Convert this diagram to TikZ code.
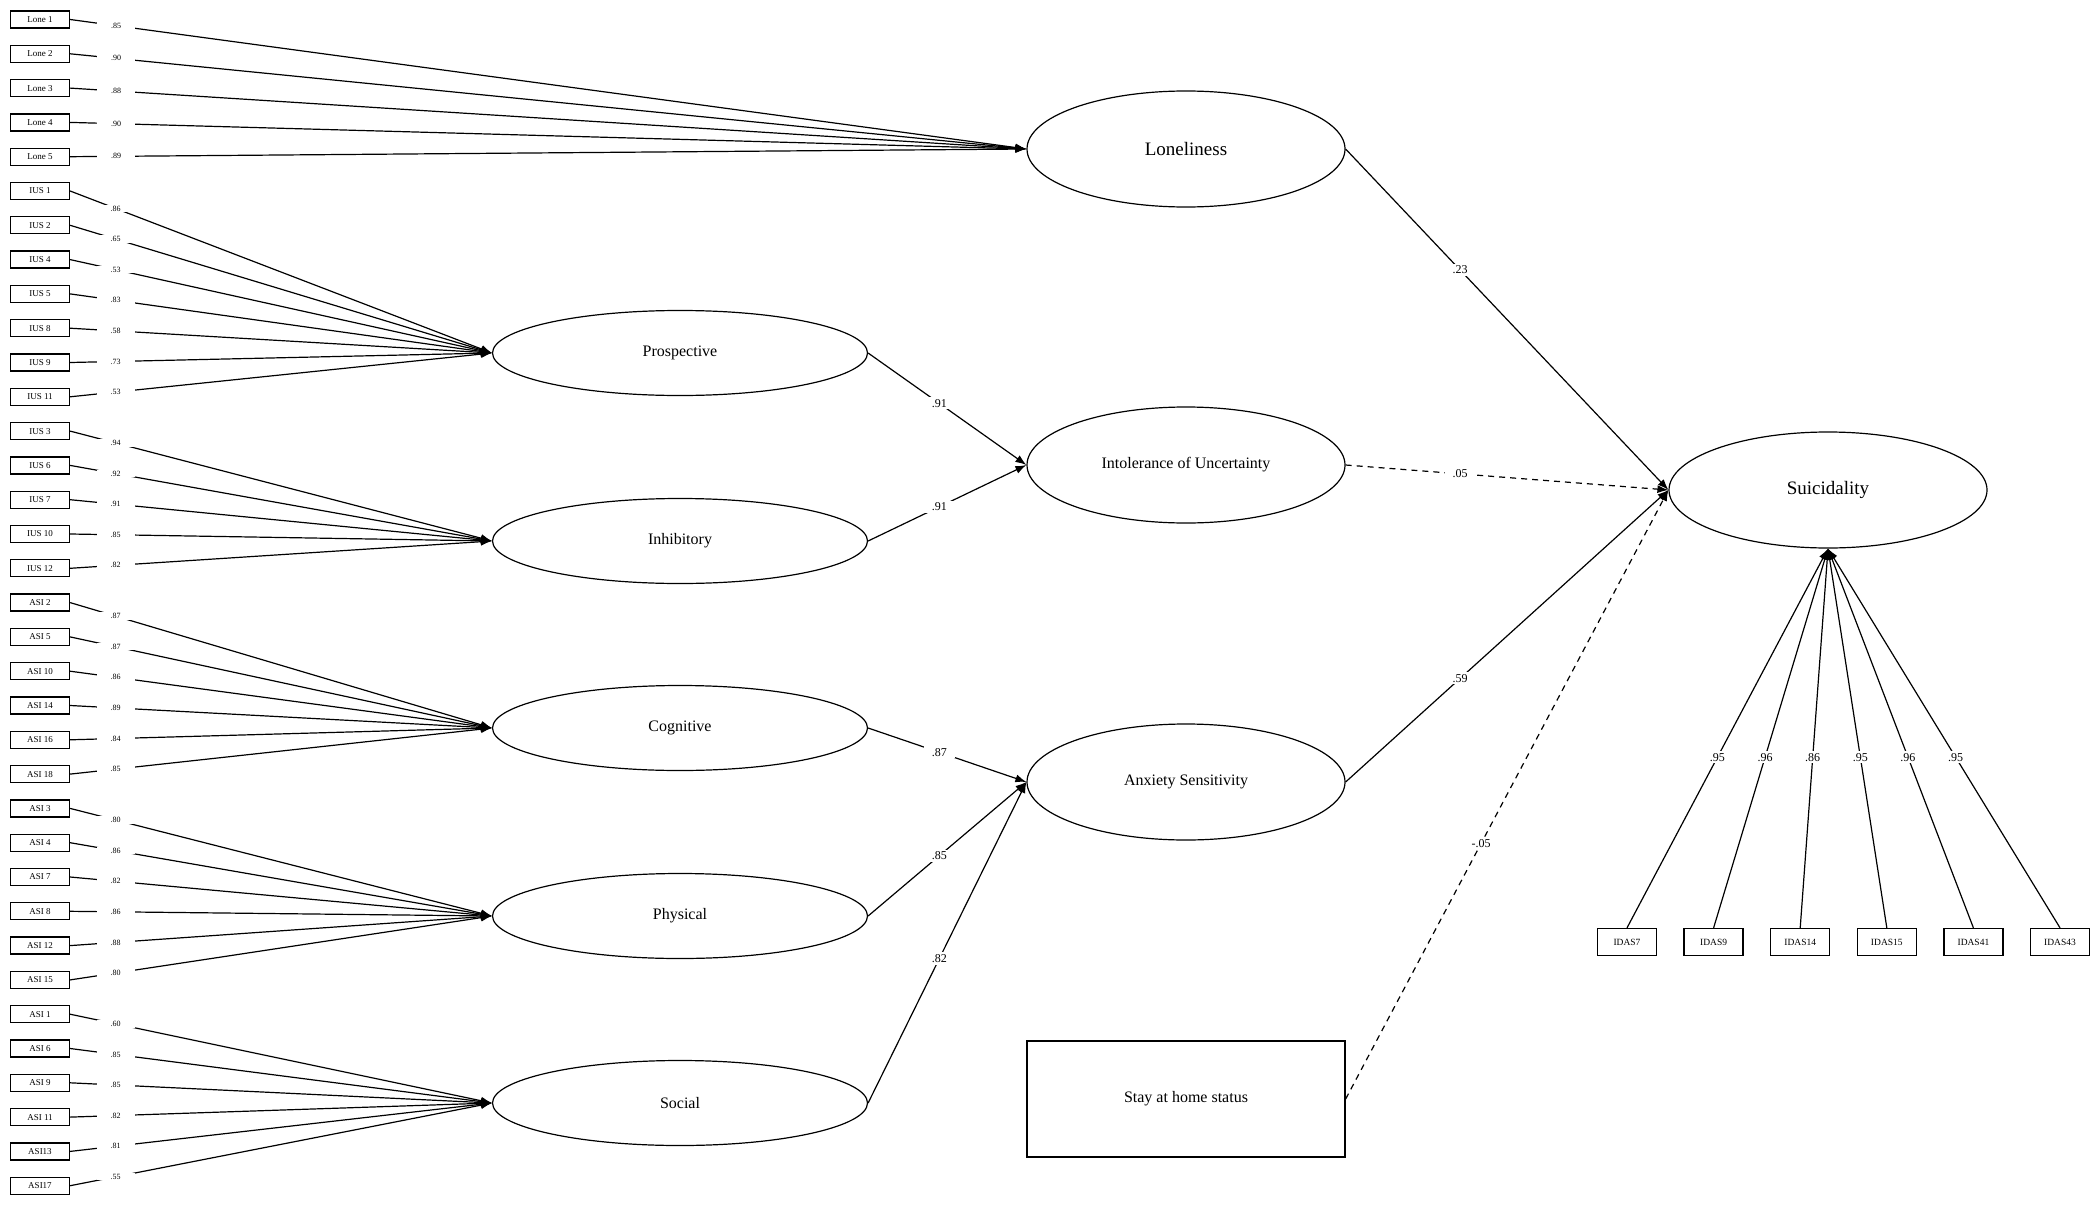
\documentclass[tikz,border=0pt]{standalone}
\usepackage{fontspec}
\setmainfont{Liberation Serif}
\usetikzlibrary{arrows.meta,positioning,calc,shapes.geometric}

\begin{document}
\begin{tikzpicture}[x=1pt,y=-1pt,>={Latex[length=11pt,width=8pt]},
  ind/.style={draw,line width=1.3pt,minimum width=59pt,minimum height=17pt,inner sep=0pt,font=\fontsize{9}{9}\selectfont},
  lat/.style={draw,ellipse,line width=1.2pt,minimum width=318pt,minimum height=116pt,inner sep=0pt,font=\fontsize{16}{16}\selectfont},
  latl/.style={lat,minimum width=375pt,minimum height=85pt},
  lnk/.style={->,line width=1.2pt},
  dlnk/.style={lnk,dash pattern=on 6pt off 5pt},
  ldlab/.style={fill=white,inner xsep=14pt,inner ysep=1pt,font=\fontsize{8}{8}\selectfont},
  coef/.style={fill=white,inner xsep=8pt,inner ysep=2pt,font=\fontsize{12}{12}\selectfont}]
\useasboundingbox (0,0) rectangle (2100,1204);

\node[lat,font=\fontsize{19}{19}\selectfont] (lone) at (1186,149) {Loneliness};
\node[lat] (iu) at (1186,465) {Intolerance of Uncertainty};
\node[lat] (anx) at (1186,782) {Anxiety Sensitivity};
\node[draw,line width=1.3pt,minimum width=318pt,minimum height=116pt,font=\fontsize{16}{16}\selectfont] (stay) at (1186,1099) {Stay at home status};
\node[lat,font=\fontsize{19}{19}\selectfont] (suic) at (1828,490) {Suicidality};
\node[latl] (pros) at (680,353) {Prospective};
\node[latl] (inhib) at (680,541) {Inhibitory};
\node[latl] (cogn) at (680,728) {Cognitive};
\node[latl] (phys) at (680,916) {Physical};
\node[latl] (soc) at (680,1103) {Social};

\foreach \i/\lab/\lo/\f/\p in {0/Lone 1/.85/lone/0.048,1/Lone 2/.90/lone/0.048,2/Lone 3/.88/lone/0.048,
  3/Lone 4/.90/lone/0.048,4/Lone 5/.89/lone/0.048,
  5/IUS 1/.86/pros/0.108,6/IUS 2/.65/pros/0.108,7/IUS 4/.53/pros/0.108,8/IUS 5/.83/pros/0.108,
  9/IUS 8/.58/pros/0.108,10/IUS 9/.73/pros/0.108,11/IUS 11/.53/pros/0.108,
  12/IUS 3/.94/inhib/0.108,13/IUS 6/.92/inhib/0.108,14/IUS 7/.91/inhib/0.108,
  15/IUS 10/.85/inhib/0.108,16/IUS 12/.82/inhib/0.108,
  17/ASI 2/.87/cogn/0.108,18/ASI 5/.87/cogn/0.108,19/ASI 10/.86/cogn/0.108,
  20/ASI 14/.89/cogn/0.108,21/ASI 16/.84/cogn/0.108,22/ASI 18/.85/cogn/0.108,
  23/ASI 3/.80/phys/0.108,24/ASI 4/.86/phys/0.108,25/ASI 7/.82/phys/0.108,
  26/ASI 8/.86/phys/0.108,27/ASI 12/.88/phys/0.108,28/ASI 15/.80/phys/0.108,
  29/ASI 1/.60/soc/0.108,30/ASI 6/.85/soc/0.108,31/ASI 9/.85/soc/0.108,
  32/ASI 11/.82/soc/0.108,33/ASI13/.81/soc/0.108,34/ASI17/.55/soc/0.108}{
  \node[ind] (x\i) at (40,{19.5+34.3*\i}) {\lab};
  \draw[lnk] (x\i.east) -- node[ldlab,pos=\p] {\lo} (\f.west);
}

\draw[lnk] (pros.east) -- node[coef,pos=0.45] {.91} (iu.west);
\draw[lnk] (inhib.east) -- node[coef,pos=0.45] {.91} (iu.west);
\draw[lnk] (cogn.east) -- node[coef,pos=0.45] {.87} (anx.west);
\draw[lnk] (phys.east) -- node[coef,pos=0.45] {.85} (anx.west);
\draw[lnk] (soc.east) -- node[coef,pos=0.45] {.82} (anx.west);
\draw[lnk] (lone.east) -- node[coef,pos=0.355] {.23} (suic.west);
\draw[dlnk] (iu.east) -- node[coef,pos=0.355] {.05} (suic.west);
\draw[lnk] (anx.east) -- node[coef,pos=0.355] {.59} (suic.west);
\draw[dlnk] (stay.east) -- node[coef,pos=0.42] {-.05} (suic.west);

\foreach \j/\lab/\lo in {0/IDAS7/.95,1/IDAS9/.96,2/IDAS14/.86,3/IDAS15/.95,4/IDAS41/.96,5/IDAS43/.95}{
  \node[ind,minimum height=27pt,font=\fontsize{9.5}{9.5}\selectfont] (y\j) at ({1627+86.6*\j},942) {\lab};
  \draw[lnk] (y\j.north) -- node[coef,pos=0.45,inner xsep=4pt] {\lo} (suic.south);
}
\end{tikzpicture}
\end{document}
